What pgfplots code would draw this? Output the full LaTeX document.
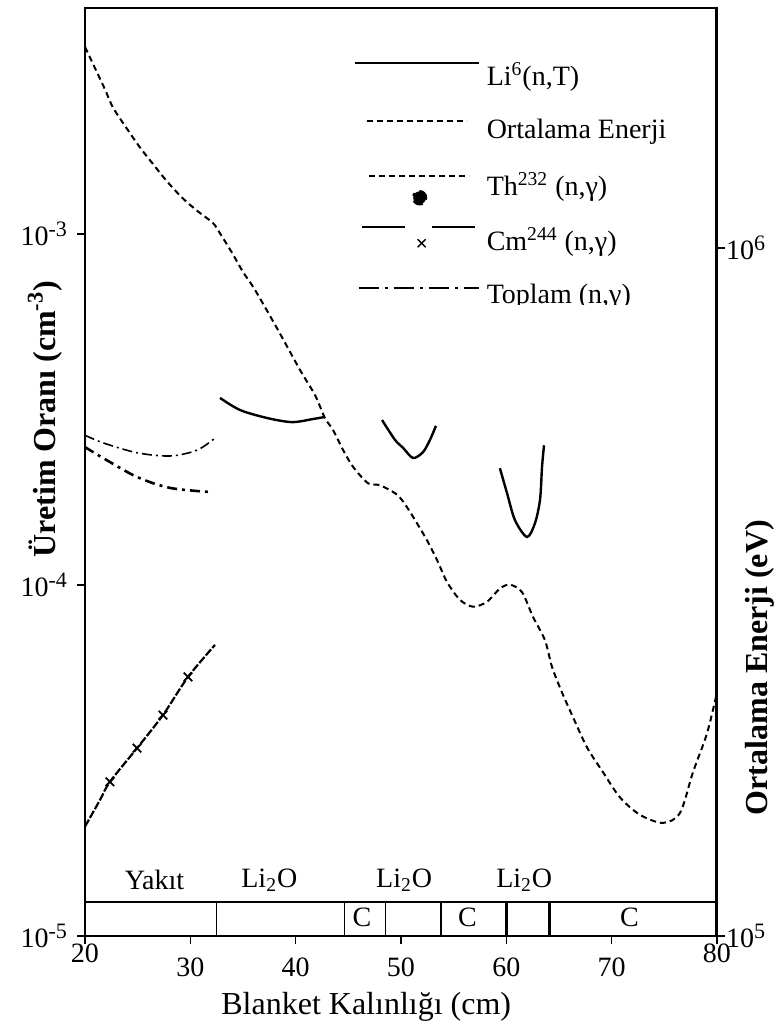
\documentclass[border=0pt]{standalone}
\usepackage{fontspec}
\setmainfont{Liberation Serif}
\usepackage{pgfplots}
\pgfplotsset{compat=1.18}
\newcommand{\tpow}[1]{10\raisebox{0.75ex}{\fontsize{11}{11}\selectfont #1}}

\begin{document}
\begin{tikzpicture}[font=\fontsize{14}{17}\selectfont]
\path[use as bounding box] (-42.5pt,-46pt) rectangle (346pt,468pt);
\begin{axis}[
  scale only axis, width=316pt, height=464pt,
  at={(0,0)}, anchor=south west,
  xmin=20, xmax=80, ymode=log, ymin=1e-5, ymax=4.40e-3,
  xtick={30,40,50,60,70},
  extra x ticks={20,80},
  xticklabel style={yshift=-3.5pt},
  extra x tick style={xticklabel style={yshift=7pt}},
  xtick pos=bottom, ytick pos=left,
  ytick={1e-5,1e-4,1e-3},
  yticklabels={\tpow{-5},\tpow{-4},\tpow{-3}},
  yticklabel style={xshift=-1.5pt},
  yminorticks=false,
  tick align=outside, major tick length=4pt,
  tick style={black, line width=0.8pt},
  /pgf/number format/assume math mode=true,
  axis line style={line width=0.6pt},
  xlabel={Blanket Kalınlığı (cm)},
  xlabel style={font=\fontsize{16}{19}\selectfont, at={(axis description cs:0.445,-0.0765)}, anchor=center},
  ylabel={\bfseries Üretim Oranı (cm\textsuperscript{-3})},
  ylabel style={font=\fontsize{16}{19}\selectfont, at={(axis description cs:-0.0633,0.557)}, anchor=center},
  legend style={at={(rel axis cs:0.424,0.9533)}, anchor=north west, draw=none, fill=none,
    inner sep=0pt, row sep=3.5pt, column sep=3.5pt, cells={anchor=west}, nodes={inner sep=0pt},
    font=\fontsize{14}{17}\selectfont},
  legend cell align=left,
]
% Li6(n,T)
\addplot[black, line width=1.2pt, smooth,
  legend image code/.code={\path[draw=none,fill=none] (0pt,-12pt) rectangle (62pt,12pt);
    \draw[black, solid, line width=1.2pt] (0pt,6.25pt) -- (62pt,6.25pt);}]
  coordinates {(32.82,3.41e-4) (34.72,3.15e-4) (37.28,2.99e-4) (39.65,2.91e-4) (41.65,2.97e-4) (42.78,3.01e-4)};
\addlegendentry{Li\textsuperscript{6}(n,T)}
\addplot[black, line width=1.2pt, smooth, forget plot]
  coordinates {(48.20,2.95e-4) (49.43,2.59e-4) (50.19,2.46e-4) (51.14,2.30e-4) (52.09,2.39e-4) (52.75,2.59e-4) (53.32,2.84e-4)};
\addplot[black, line width=1.2pt, smooth, forget plot]
  coordinates {(59.39,2.15e-4) (60.06,1.83e-4) (60.82,1.53e-4) (61.96,1.37e-4) (62.72,1.50e-4) (63.20,1.75e-4) (63.39,2.17e-4) (63.58,2.50e-4)};
% legend for the energy curve (plotted on the right axis)
\addlegendimage{legend image code/.code={\path[draw=none,fill=none] (0pt,-12pt) rectangle (62pt,12pt);
    \draw[black, line width=1pt, dash pattern=on 3pt off 2pt] (6pt,4.75pt) -- (56pt,4.75pt);}}
\addlegendentry{Ortalama Enerji}
% Th232 (n,gamma)
\addplot[black, line width=1.3pt, smooth, dash pattern=on 5pt off 2.5pt on 1.5pt off 2.5pt,
  legend image code/.code={\path[draw=none,fill=none] (0pt,-12pt) rectangle (62pt,12pt);
    \draw[black, line width=1pt, dash pattern=on 3pt off 2pt] (7pt,4.75pt) -- (57pt,4.75pt);
    \fill[black] (32.5pt,-6pt) circle (3.2pt);}]
  coordinates {(20,2.47e-4) (21.71,2.30e-4) (24.94,2.03e-4) (28.07,1.89e-4) (31.87,1.84e-4)};
\addlegendentry{Th\textsuperscript{232} (n,γ)}
% Cm244 (n,gamma)
\addplot[black, line width=1.1pt, smooth, dash pattern=on 4pt off 1pt,
  mark=x, mark size=3pt, mark indices={3,4,5,6}, mark options={solid, line width=0.9pt},
  legend image code/.code={\path[draw=none,fill=none] (0pt,-12pt) rectangle (62pt,12pt);
    \draw[black, solid, line width=1.1pt] (3.5pt,6.75pt) -- (25pt,6.75pt) (38.5pt,6.75pt) -- (60pt,6.75pt);
    \draw[black, solid, line width=0.7pt] (31.5pt,-3.25pt) -- (35.5pt,0.75pt) (31.5pt,0.75pt) -- (35.5pt,-3.25pt);}]
  coordinates {(20,2.05e-5) (21.42,2.44e-5) (22.37,2.75e-5) (24.94,3.43e-5) (27.4,4.26e-5) (29.78,5.47e-5) (32.34,6.75e-5)};
\addlegendentry{Cm\textsuperscript{244} (n,γ)}
% Toplam (n,gamma)
\addplot[black, line width=0.8pt, smooth, dash pattern=on 5pt off 2pt on 1pt off 2pt,
  legend image code/.code={\path[draw=none,fill=none] (0pt,-12pt) rectangle (62pt,12pt);
    \draw[black, line width=1pt, dash pattern=on 10pt off 3pt on 1.5pt off 3pt] (2pt,3.75pt) -- (62pt,3.75pt);}]
  coordinates {(20,2.67e-4) (21.71,2.54e-4) (24.94,2.38e-4) (28.07,2.33e-4) (30.63,2.42e-4) (32.34,2.62e-4)};
\addlegendentry{Toplam (n,γ)}
% composition strip at the bottom
\draw[line width=0.6pt] (axis cs:20,1.25e-5) -- (axis cs:80,1.25e-5);
\draw[line width=0.6pt] (axis cs:32.5,1e-5) -- (axis cs:32.5,1.25e-5);
\draw[line width=0.6pt] (axis cs:44.6,1e-5) -- (axis cs:44.6,1.25e-5);
\draw[line width=0.6pt] (axis cs:48.5,1e-5) -- (axis cs:48.5,1.25e-5);
\draw[line width=0.6pt] (axis cs:53.8,1e-5) -- (axis cs:53.8,1.25e-5);
\draw[line width=1.3pt] (axis cs:60,1e-5) -- (axis cs:60,1.25e-5);
\draw[line width=1.3pt] (axis cs:64.1,1e-5) -- (axis cs:64.1,1.25e-5);
\node at (axis cs:26.6,1.445e-5) {Yakıt};
\node at (axis cs:37.5,1.445e-5) {Li\textsubscript{2}O};
\node at (axis cs:50.3,1.445e-5) {Li\textsubscript{2}O};
\node at (axis cs:61.7,1.445e-5) {Li\textsubscript{2}O};
\node at (axis cs:46.3,1.133e-5) {C};
\node at (axis cs:56.3,1.133e-5) {C};
\node at (axis cs:71.7,1.133e-5) {C};
\draw[line width=1.1pt] (rel axis cs:0,0) -- (rel axis cs:0,1);
\draw[line width=1.5pt] (rel axis cs:0,0) -- (rel axis cs:1,0);
\end{axis}
\begin{axis}[
  scale only axis, width=316pt, height=464pt,
  at={(0,0)}, anchor=south west,
  xmin=20, xmax=80, ymode=log, ymin=1e5, ymax=2.233e6,
  hide x axis, axis y line*=right,
  ytick={1e5,1e6},
  yticklabels={\tpow{5},\tpow{6}},
  yticklabel style={xshift=-3pt},
  yminorticks=false,
  tick align=outside, major tick length=4pt,
  tick style={black, line width=0.8pt},
  axis line style={line width=1.5pt},
  ylabel={\bfseries Ortalama Enerji (eV)},
  ylabel style={font=\fontsize{16}{19}\selectfont, at={(axis description cs:1.068,0.289)}, anchor=center},
]
\addplot[black, line width=1pt, smooth, dash pattern=on 3pt off 2pt]
  coordinates {(20.00,1.96e6) (21.14,1.80e6) (21.90,1.70e6) (22.66,1.60e6) (23.99,1.49e6) (25.22,1.40e6)
  (26.36,1.33e6) (27.78,1.25e6) (29.30,1.18e6) (30.73,1.13e6) (32.15,1.087e6) (32.82,1.05e6)
  (33.96,9.84e5) (35.00,9.23e5) (36.14,8.69e5) (38.32,7.60e5) (40.41,6.65e5) (41.84,6.11e5)
  (42.78,5.66e5) (43.54,5.44e5) (44.49,5.09e5) (45.44,4.81e5) (46.87,4.55e5) (48.00,4.52e5)
  (49.62,4.38e5) (50.57,4.20e5) (51.52,3.98e5) (52.47,3.76e5) (53.42,3.52e5) (54.37,3.27e5)
  (55.60,3.08e5) (56.84,3.01e5) (58.16,3.06e5) (59.40,3.20e5) (60.35,3.24e5) (61.49,3.16e5)
  (62.53,2.91e5) (63.67,2.69e5) (64.34,2.46e5) (65.28,2.26e5) (66.33,2.08e5) (67.66,1.88e5)
  (69.18,1.73e5) (70.79,1.59e5) (72.69,1.50e5) (74.87,1.46e5) (76.49,1.51e5) (77.72,1.73e5)
  (79.05,1.97e5) (80.00,2.26e5)};
\fill[white] (rel axis cs:0.625,0.652) rectangle (rel axis cs:0.973,0.680);
\end{axis}
\end{tikzpicture}
\end{document}
